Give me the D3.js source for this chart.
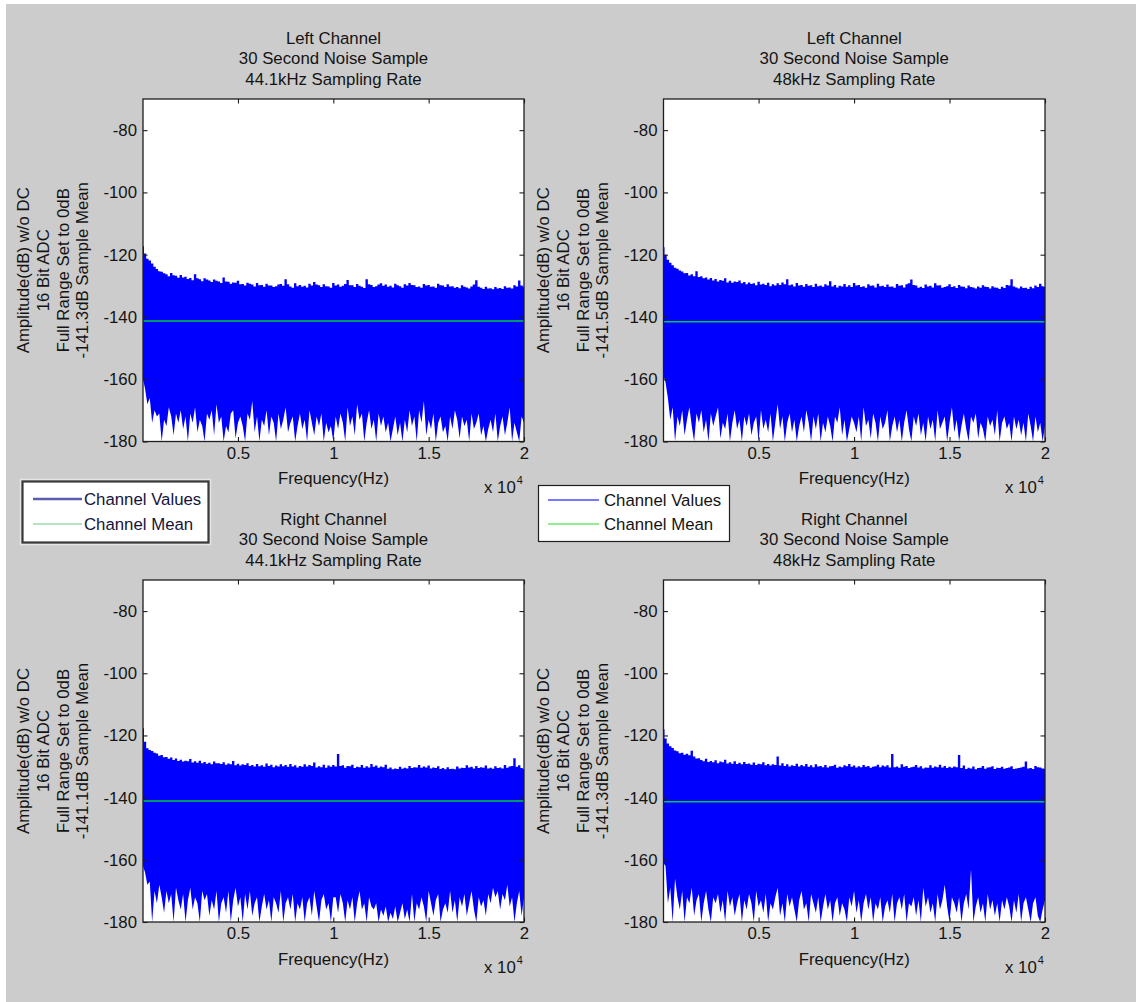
<!DOCTYPE html>
<html>
<head>
<meta charset="utf-8">
<script src="https://cdn.jsdelivr.net/npm/d3@7"></script>
<style>
  html, body { margin: 0; padding: 0; background: #ffffff; }
  svg { display: block; }
  text { font-family: "Liberation Sans", Arial, Helvetica, sans-serif; }
</style>
</head>
<body>
<svg id="fig" width="1136" height="1002"></svg>
<script>
// ---------------- data ----------------
// FFT bin frequencies (Hz) at which the spectrum envelopes are sampled
const freqHz = [20].concat(d3.range(125, 20001, 125));

// Panel order: left 44.1k, left 48k, right 44.1k, right 48k
const panelTitles = [
  ["Left Channel", "30 Second Noise Sample", "44.1kHz Sampling Rate"],
  ["Left Channel", "30 Second Noise Sample", "48kHz Sampling Rate"],
  ["Right Channel", "30 Second Noise Sample", "44.1kHz Sampling Rate"],
  ["Right Channel", "30 Second Noise Sample", "48kHz Sampling Rate"]
];
const channelMeanDb = [-141.3, -141.5, -141.1, -141.3];
const yLabelLines = ["Amplitude(dB) w/o DC", "16 Bit ADC", "Full Range Set to 0dB"];
const xAxisLabel = "Frequency(Hz)";
const yTicks = [-80, -100, -120, -140, -160, -180];
const xTicks = [5000, 10000, 15000, 20000];
const xTickLabels = ["0.5", "1", "1.5", "2"];
const legendLabels = ["Channel Values", "Channel Mean"];

// Peak (upper) envelope, dB, on freqHz (rows of 2 kHz)
const leftUpper441 = [
  -117.3,
  -119.6, -121.3, -121.9, -122.8, -123.9, -124.6, -125.3, -125.5, -126.0, -126.3, -126.9, -125.9, -126.6, -126.8, -127.4, -126.5,
  -127.3, -127.1, -127.8, -127.5, -128.2, -126.3, -127.6, -127.9, -128.5, -127.6, -128.0, -128.3, -128.8, -128.0, -128.4, -128.6,
  -129.1, -127.3, -128.6, -128.7, -129.3, -128.9, -129.0, -128.4, -129.5, -129.4, -129.9, -129.0, -129.3, -129.6, -130.2, -129.1,
  -129.8, -129.7, -130.3, -129.3, -129.9, -129.9, -130.4, -130.1, -129.6, -129.4, -130.0, -127.9, -129.5, -130.2, -130.6, -129.2,
  -130.1, -129.7, -130.3, -130.0, -130.5, -129.3, -129.9, -128.8, -129.6, -129.8, -130.4, -129.5, -130.1, -130.2, -130.6, -129.1,
  -129.9, -129.6, -130.3, -130.0, -129.4, -128.1, -129.8, -129.8, -130.4, -129.4, -130.0, -130.3, -130.7, -127.9, -129.5, -129.7,
  -130.4, -130.1, -129.6, -129.2, -130.0, -129.6, -130.3, -130.0, -130.5, -129.3, -129.8, -130.1, -130.6, -129.5, -129.9, -129.1,
  -129.7, -129.8, -130.4, -130.2, -130.6, -129.4, -129.9, -129.7, -130.3, -130.2, -130.6, -129.3, -129.8, -129.9, -130.4, -129.5,
  -130.2, -130.1, -130.6, -130.4, -130.8, -129.8, -130.3, -130.5, -130.9, -130.2, -129.6, -128.2, -130.3, -130.6, -131.0, -130.3,
  -130.9, -130.8, -131.1, -130.4, -130.9, -130.7, -131.0, -130.1, -130.6, -130.5, -130.9, -129.8, -130.2, -128.3, -129.9, -130.3
];
const leftUpper48 = [
  -117.6,
  -120.0, -121.6, -122.6, -123.4, -124.2, -124.5, -125.1, -125.4, -126.0, -125.9, -126.7, -126.3, -126.9, -125.3, -127.2, -126.9,
  -127.6, -127.3, -128.0, -127.5, -128.3, -127.8, -128.6, -128.1, -128.4, -127.6, -128.9, -128.4, -129.0, -128.6, -128.8, -128.3,
  -129.2, -128.8, -129.5, -128.9, -129.4, -129.2, -129.8, -128.7, -129.6, -129.3, -129.7, -129.0, -130.1, -129.5, -129.9, -129.2,
  -129.7, -128.9, -129.5, -127.9, -129.8, -129.6, -130.2, -129.1, -129.9, -129.7, -130.3, -129.4, -130.0, -129.8, -130.4, -129.3,
  -130.1, -129.9, -130.3, -129.5, -129.9, -128.5, -130.2, -129.7, -130.5, -130.0, -130.2, -129.4, -130.3, -129.8, -130.4, -129.1,
  -129.9, -129.7, -130.4, -130.1, -130.6, -129.5, -130.0, -129.9, -130.5, -129.3, -130.1, -130.0, -130.4, -129.6, -130.3, -130.2,
  -130.6, -129.4, -130.0, -129.8, -130.5, -129.5, -129.2, -128.0, -129.7, -129.9, -130.6, -130.3, -130.7, -129.6, -130.2, -130.0,
  -130.5, -129.2, -129.9, -129.8, -130.6, -130.4, -130.1, -129.5, -130.4, -130.1, -130.7, -129.7, -130.2, -130.3, -130.8, -129.9,
  -130.4, -130.5, -130.9, -130.2, -130.6, -129.8, -130.3, -130.4, -130.9, -130.1, -130.5, -130.6, -131.0, -130.3, -130.7, -129.7,
  -129.9, -127.9, -130.2, -130.5, -130.9, -130.2, -130.7, -130.6, -131.0, -130.3, -130.8, -129.9, -130.4, -129.3, -130.1, -130.4
];
const rightUpper441 = [
  -117.7,
  -122.0, -124.1, -124.7, -125.0, -125.6, -125.8, -126.5, -126.3, -127.0, -126.9, -127.5, -127.1, -127.9, -127.4, -128.2, -127.8,
  -128.4, -128.1, -128.3, -127.6, -128.7, -128.3, -128.8, -128.1, -128.9, -128.5, -129.1, -128.8, -129.3, -128.4, -128.9, -128.9,
  -129.2, -128.6, -129.4, -129.0, -129.3, -128.2, -129.6, -129.1, -129.7, -129.3, -129.5, -128.9, -129.8, -129.5, -130.0, -129.2,
  -129.9, -129.6, -130.1, -129.0, -129.8, -129.4, -130.2, -129.7, -130.0, -129.3, -129.9, -129.5, -130.1, -129.2, -130.0, -129.6,
  -130.3, -129.8, -130.1, -129.3, -130.0, -129.5, -129.8, -128.7, -130.3, -129.9, -130.2, -129.4, -130.4, -129.7, -130.1, -129.5,
  -130.0, -126.0, -129.8, -129.6, -130.4, -129.8, -129.9, -129.4, -130.5, -130.1, -130.2, -129.5, -130.4, -129.9, -130.3, -129.2,
  -130.1, -129.7, -130.4, -130.0, -130.2, -129.4, -130.7, -130.3, -130.9, -130.6, -130.8, -130.1, -130.7, -130.4, -130.6, -129.8,
  -130.5, -130.2, -130.3, -129.5, -130.4, -130.0, -130.3, -129.7, -130.6, -130.3, -130.5, -129.9, -130.8, -130.5, -130.9, -130.2,
  -130.8, -130.7, -130.9, -130.0, -130.6, -130.4, -130.5, -129.6, -130.3, -130.1, -130.6, -129.8, -130.5, -130.2, -130.4, -129.7,
  -130.6, -130.4, -130.7, -129.9, -130.5, -130.3, -130.6, -129.5, -130.4, -130.0, -129.8, -127.3, -130.1, -129.6, -130.5, -130.8
];
const rightUpper48 = [
  -118.0,
  -121.0, -122.6, -123.5, -124.0, -124.8, -125.1, -125.7, -125.6, -126.2, -125.9, -126.4, -124.9, -126.8, -127.4, -127.3, -127.9,
  -128.3, -127.5, -128.5, -128.2, -128.6, -128.0, -128.9, -128.4, -128.6, -127.8, -129.0, -128.6, -129.1, -128.3, -129.2, -128.8,
  -129.3, -128.5, -129.2, -129.0, -129.4, -128.7, -129.5, -129.1, -129.3, -128.6, -129.6, -129.2, -129.7, -129.3, -129.5, -126.8,
  -129.7, -128.9, -129.8, -129.3, -130.0, -129.6, -129.8, -129.1, -130.0, -129.5, -129.9, -129.2, -130.1, -129.6, -130.2, -129.3,
  -130.0, -129.8, -130.2, -129.5, -130.3, -129.9, -129.8, -129.4, -130.4, -130.0, -130.2, -129.6, -129.9, -129.2, -130.1, -129.7,
  -130.3, -129.9, -130.2, -129.5, -130.1, -129.8, -130.4, -130.1, -129.9, -129.4, -130.2, -129.7, -130.0, -129.6, -130.3, -126.0,
  -130.2, -130.0, -130.4, -129.3, -130.1, -129.8, -130.5, -130.2, -130.1, -129.5, -130.3, -129.9, -130.6, -130.3, -130.4, -129.6,
  -130.4, -130.0, -130.2, -129.4, -130.3, -129.8, -130.5, -130.1, -130.4, -130.0, -130.2, -126.3, -130.5, -129.7, -130.8, -130.4,
  -130.6, -130.0, -130.9, -130.5, -130.4, -129.8, -130.7, -130.3, -130.2, -129.9, -130.8, -130.4, -130.5, -130.1, -130.7, -130.5,
  -130.3, -129.9, -130.8, -130.6, -130.5, -130.3, -130.1, -128.4, -130.6, -130.5, -130.8, -129.8, -130.2, -130.3, -130.6, -130.7
];

// Trough (lower) envelope, dB, on freqHz (rows of 2 kHz)
const leftLower441 = [
  -160,
  -163, -168, -166, -174, -170, -172, -171, -180, -173, -175, -169, -172, -178, -171, -174, -170,
  -176, -172, -180, -171, -174, -169, -177, -173, -175, -180, -171, -173, -170, -178, -168, -174,
  -172, -180, -175, -177, -171, -170, -179, -174, -172, -175, -180, -171, -173, -167, -177, -172,
  -180, -173, -175, -170, -178, -172, -174, -180, -171, -176, -173, -169, -177, -174, -172, -180,
  -175, -171, -176, -173, -180, -170, -174, -178, -172, -175, -171, -180, -174, -177, -175, -180,
  -172, -176, -171, -174, -180, -169, -175, -172, -178, -168, -173, -171, -180, -174, -170, -176,
  -173, -180, -171, -175, -172, -177, -174, -180, -176, -172, -178, -174, -180, -173, -177, -170,
  -175, -172, -180, -170, -174, -167, -178, -173, -176, -171, -180, -174, -172, -177, -175, -180,
  -172, -176, -170, -173, -179, -172, -175, -173, -180, -171, -176, -174, -171, -178, -175, -180,
  -176, -173, -177, -171, -180, -175, -172, -178, -174, -169, -180, -174, -177, -180, -172, -174
];
const leftLower48 = [
  -159,
  -161, -166, -173, -169, -180, -172, -175, -170, -178, -173, -169, -175, -180, -171, -174, -170,
  -177, -173, -180, -171, -175, -172, -169, -179, -174, -176, -171, -180, -174, -170, -176, -173,
  -180, -172, -175, -171, -178, -174, -172, -180, -170, -176, -173, -177, -171, -180, -174, -168,
  -176, -172, -180, -174, -171, -177, -173, -180, -175, -172, -177, -170, -174, -180, -172, -176,
  -171, -180, -174, -177, -172, -175, -180, -172, -174, -169, -178, -173, -180, -176, -172, -174,
  -177, -172, -180, -169, -175, -173, -179, -171, -174, -180, -172, -176, -174, -170, -180, -175,
  -172, -177, -173, -180, -174, -170, -176, -180, -172, -175, -171, -178, -174, -180, -172, -176,
  -173, -180, -170, -176, -174, -172, -180, -174, -169, -177, -173, -180, -175, -171, -176, -180,
  -172, -174, -171, -179, -174, -176, -180, -172, -175, -173, -178, -170, -180, -174, -172, -176,
  -174, -180, -172, -176, -173, -178, -174, -180, -171, -175, -180, -172, -177, -174, -180, -175
];
const rightLower441 = [
  -162,
  -164, -168, -167, -180, -170, -174, -168, -172, -177, -170, -174, -171, -180, -169, -173, -176,
  -171, -180, -173, -169, -176, -172, -174, -180, -170, -173, -171, -178, -173, -176, -170, -180,
  -174, -172, -177, -170, -180, -173, -169, -175, -172, -180, -171, -176, -170, -178, -174, -172,
  -180, -175, -171, -176, -173, -180, -172, -174, -177, -170, -180, -174, -172, -176, -171, -180,
  -174, -176, -172, -180, -174, -172, -178, -170, -175, -180, -173, -171, -176, -174, -180, -172,
  -172, -177, -171, -174, -180, -173, -176, -172, -180, -174, -170, -176, -174, -180, -172, -175,
  -176, -174, -180, -176, -178, -175, -180, -177, -179, -175, -180, -177, -174, -179, -176, -180,
  -171, -180, -174, -176, -172, -175, -180, -170, -174, -178, -173, -171, -180, -176, -174, -177,
  -170, -177, -173, -180, -172, -175, -171, -178, -174, -170, -176, -180, -172, -175, -173, -178,
  -171, -174, -169, -172, -170, -176, -171, -173, -168, -175, -172, -180, -174, -170, -178, -172
];
const rightLower48 = [
  -161,
  -162, -174, -169, -180, -166, -172, -176, -170, -180, -172, -174, -169, -178, -173, -171, -180,
  -174, -170, -176, -180, -172, -174, -171, -177, -173, -180, -170, -175, -172, -178, -174, -171,
  -180, -173, -176, -171, -174, -180, -170, -175, -173, -177, -171, -180, -174, -176, -172, -169,
  -178, -174, -180, -171, -175, -172, -176, -180, -173, -170, -176, -174, -180, -171, -174, -177,
  -172, -180, -175, -171, -176, -173, -180, -174, -172, -178, -174, -176, -180, -172, -175, -170,
  -177, -173, -180, -174, -171, -176, -172, -180, -174, -176, -172, -180, -175, -173, -177, -171,
  -180, -174, -172, -176, -171, -180, -174, -175, -172, -178, -173, -180, -169, -175, -172, -177,
  -174, -180, -171, -176, -173, -168, -175, -180, -172, -174, -177, -172, -180, -174, -171, -176,
  -163, -180, -175, -172, -177, -174, -180, -171, -176, -173, -178, -174, -180, -173, -176, -172,
  -175, -180, -173, -177, -171, -180, -174, -172, -176, -180, -174, -172, -178, -180, -176, -173
];

const panelUpper = [leftUpper441, leftUpper48, rightUpper441, rightUpper48];
const panelLower = [leftLower441, leftLower48, rightLower441, rightLower48];

// ---------------- layout ----------------
const W = 1136, H = 1002;
const FONT = 16.8;
const frames = [
  { left: 143, top: 99,  width: 381, height: 342.5 },
  { left: 663.5, top: 99, width: 381.5, height: 342.5 },
  { left: 143, top: 580, width: 381, height: 342 },
  { left: 663.5, top: 580, width: 381.5, height: 342 }
];
const textColor = "#141414";
const frameColor = "#1e1e1e";

const svg = d3.select("#fig");
svg.append("rect").attr("x", 6).attr("y", 4).attr("width", W - 6).attr("height", H - 4).attr("fill", "#cccccc");

function styleAxis(sel) {
  sel.attr("font-size", null).attr("font-family", null).attr("color", frameColor);
  sel.select(".domain").remove();
  sel.selectAll(".tick line").attr("stroke-width", 1.1);
  sel.selectAll("text").attr("font-size", FONT).attr("fill", textColor);
}

frames.forEach((F, i) => {
  const g = svg.append("g").attr("transform", `translate(${F.left},${F.top})`);
  const x = d3.scaleLinear().domain([20, 20000]).range([0, F.width]);
  const y = d3.scaleLinear().domain([-180, -70]).range([F.height, 0]);

  g.append("rect").attr("width", F.width).attr("height", F.height).attr("fill", "#ffffff");

  const clipId = "plotclip" + i;
  g.append("clipPath").attr("id", clipId)
    .append("rect").attr("width", F.width).attr("height", F.height);

  // spectrum band: peak envelope stepped per bin, trough envelope joined point to point
  const upperPts = freqHz.map((f, k) => [x(f), y(panelUpper[i][k])]);
  const lowerPts = freqHz.map((f, k) => [x(f), y(panelLower[i][k])]).reverse();
  const topEdge = d3.line().curve(d3.curveStep)(upperPts);
  const bottomEdge = d3.line()(lowerPts).replace(/^M/, "L");
  g.append("path")
    .attr("clip-path", `url(#${clipId})`)
    .attr("d", topEdge + bottomEdge + "Z")
    .attr("fill", "#0000ff");

  // channel mean
  const mean = channelMeanDb[i];
  const line = d3.line().x(d => x(d[0])).y(d => y(d[1]));
  g.append("path")
    .attr("d", line([[x.domain()[0], mean], [x.domain()[1], mean]]))
    .attr("stroke", "#00c83c").attr("stroke-width", 1.5).attr("fill", "none");

  // axes with inward ticks on all four sides
  const fmt = d => String(d);
  g.append("g")
    .call(d3.axisLeft(y).tickValues(yTicks).tickFormat(fmt).tickSize(-4.5).tickPadding(6))
    .call(styleAxis);
  g.append("g").attr("transform", `translate(${F.width},0)`)
    .call(d3.axisRight(y).tickValues(yTicks).tickFormat("").tickSize(-4.5))
    .call(styleAxis);
  g.append("g").attr("transform", `translate(0,${F.height})`)
    .call(d3.axisBottom(x).tickValues(xTicks).tickFormat((d, k) => xTickLabels[k]).tickSize(-4.5).tickPadding(5.5))
    .call(styleAxis);
  g.append("g")
    .call(d3.axisTop(x).tickValues(xTicks).tickFormat("").tickSize(-4.5))
    .call(styleAxis);

  g.append("rect").attr("width", F.width).attr("height", F.height)
    .attr("fill", "none").attr("stroke", frameColor).attr("stroke-width", 1.3);

  // title (three lines)
  const titleOffsets = [-61, -40.5, -20];
  panelTitles[i].forEach((t, k) => {
    g.append("text").attr("x", F.width / 2).attr("y", titleOffsets[k]).attr("dy", "0.35em")
      .attr("text-anchor", "middle").attr("font-size", FONT).attr("fill", textColor).text(t);
  });

  // y label (four rotated lines)
  const yl = yLabelLines.concat([`${mean.toFixed(1)}dB Sample Mean`]);
  const ylOffsets = [-120, -100, -80, -61];
  yl.forEach((t, k) => {
    const cx = ylOffsets[k], cy = F.height / 2;
    g.append("text").attr("x", cx).attr("y", cy).attr("dy", "0.35em")
      .attr("transform", `rotate(-90,${cx},${cy})`)
      .attr("text-anchor", "middle").attr("font-size", FONT).attr("fill", textColor).text(t);
  });

  // x label and exponent
  g.append("text").attr("x", F.width / 2).attr("y", F.height + 37).attr("dy", "0.35em")
    .attr("text-anchor", "middle").attr("font-size", FONT).attr("fill", textColor).text(xAxisLabel);
  const ex = g.append("text").attr("x", F.width - 40).attr("y", F.height + 51)
    .attr("font-size", FONT).attr("fill", textColor);
  ex.append("tspan").text("x 10");
  ex.append("tspan").attr("dx", 1).attr("dy", -9).attr("font-size", 11).text("4");
});

// ---------------- legends ----------------
function legend(box, lineX0, lineX1, textX, rowY, colors, widths, opts) {
  const g = svg.append("g");
  if (opts.halo) {
    g.append("rect").attr("x", box.x - 2).attr("y", box.y - 2).attr("width", box.w + 4).attr("height", box.h + 4)
      .attr("fill", "none").attr("stroke", "#e4e4e4").attr("stroke-width", 1.5);
  }
  g.append("rect").attr("x", box.x).attr("y", box.y).attr("width", box.w).attr("height", box.h)
    .attr("fill", "#ffffff").attr("stroke", opts.border).attr("stroke-width", opts.borderWidth);
  legendLabels.forEach((lab, k) => {
    g.append("line").attr("x1", lineX0).attr("x2", lineX1).attr("y1", rowY[k]).attr("y2", rowY[k])
      .attr("stroke", colors[k]).attr("stroke-width", widths[k]);
    g.append("text").attr("x", textX).attr("y", rowY[k]).attr("dy", "0.35em")
      .attr("font-size", FONT).attr("fill", opts.textFill).text(lab);
  });
}
legend({ x: 22.5, y: 481.5, w: 186, h: 61 }, 33, 82, 84, [499, 524],
  ["#5c5cae", "#9fd9ae"], [2.5, 1.6],
  { halo: true, border: "#3a3a3a", borderWidth: 2.2, textFill: "#14143a" });
legend({ x: 538.5, y: 485.5, w: 191, h: 56 }, 548, 599, 604, [500, 524],
  ["#4d4dff", "#22dd22"], [1.6, 1.2],
  { halo: false, border: "#1e1e1e", borderWidth: 1.2, textFill: textColor });
</script>
</body>
</html>
